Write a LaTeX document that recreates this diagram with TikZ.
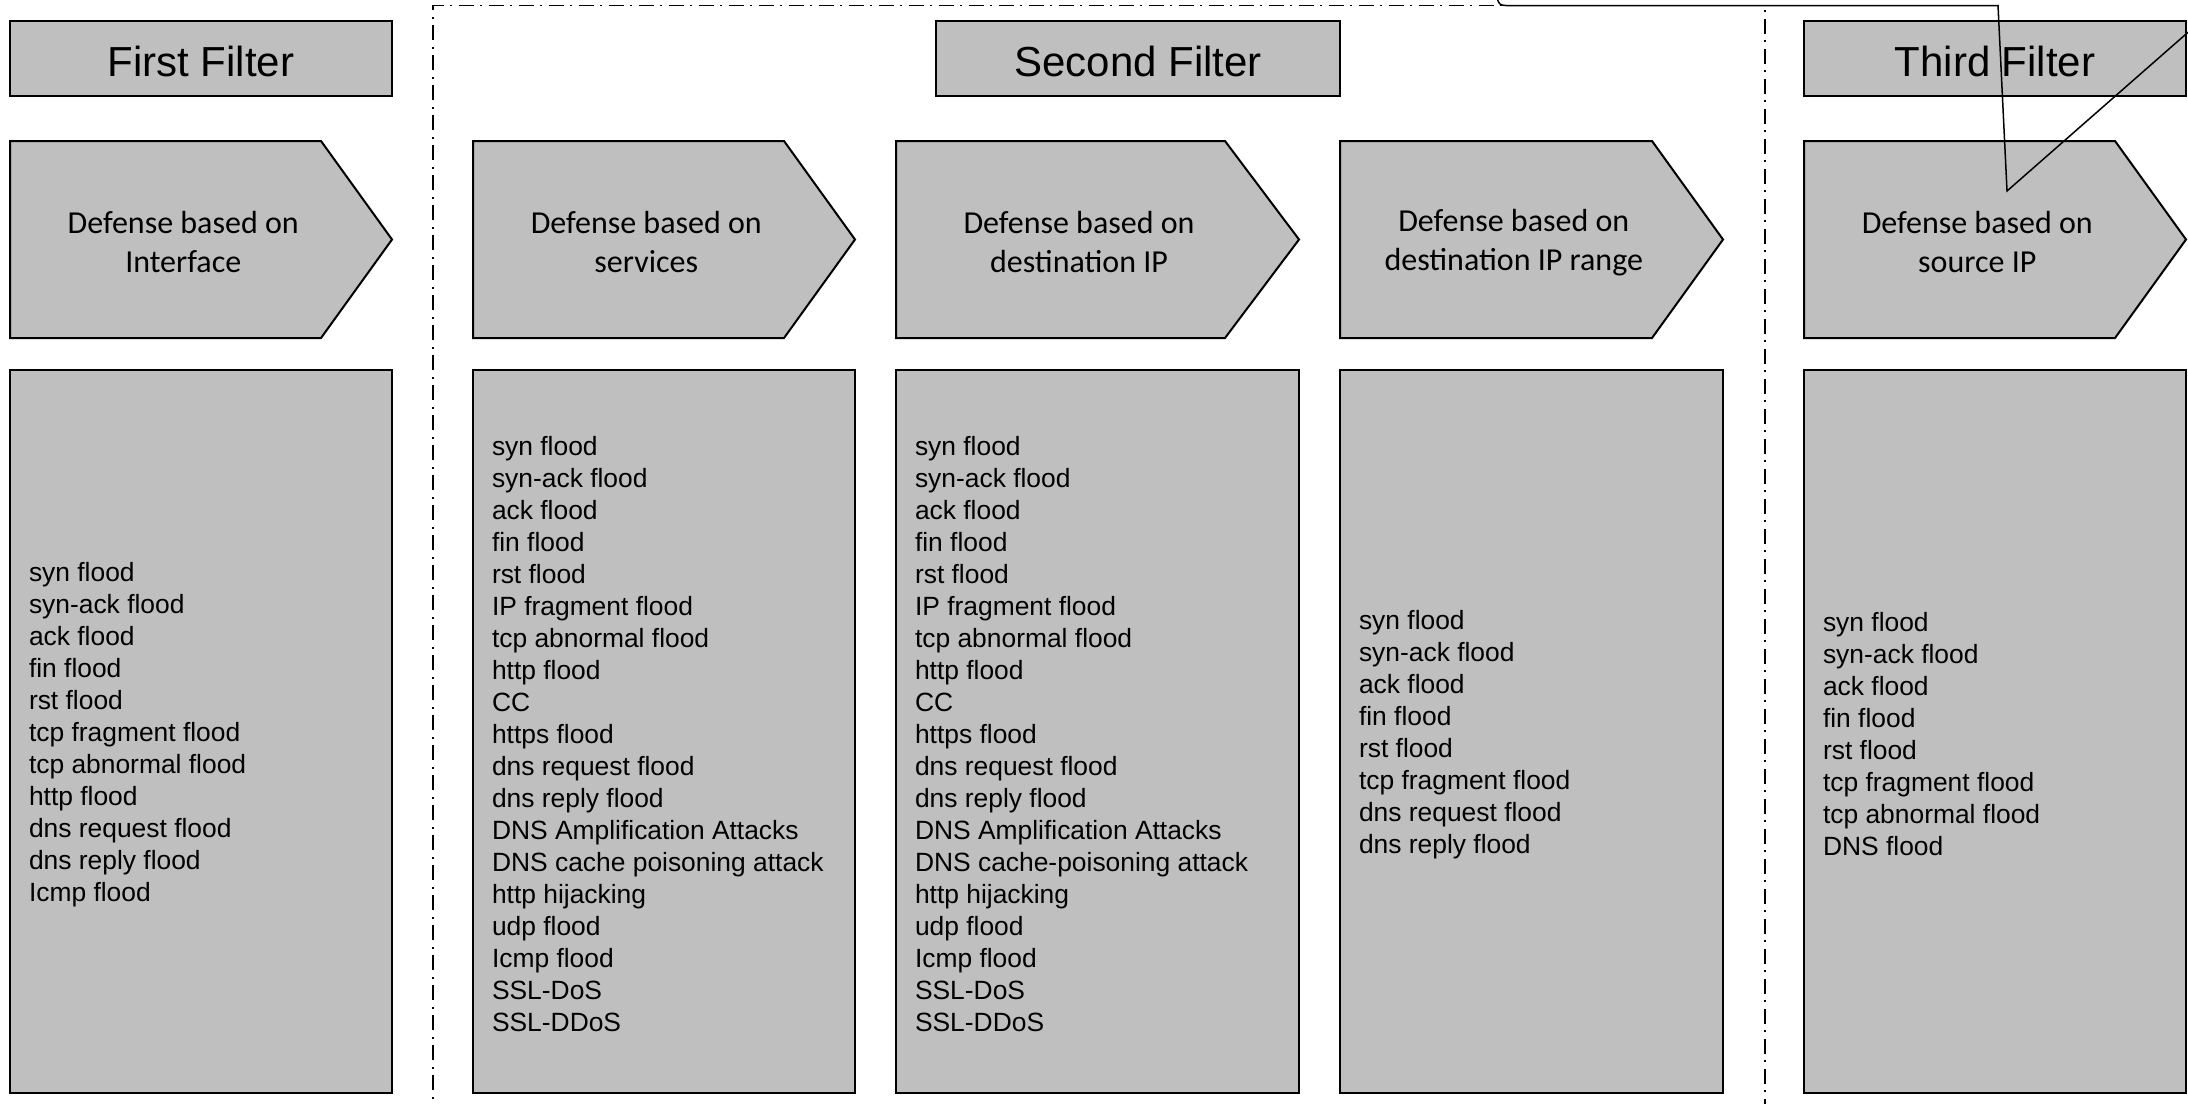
\documentclass[tikz,border=0pt]{standalone}
\usepackage{fontspec}
\setmainfont{Liberation Sans}
\newfontfamily\chevfont{Carlito}
\definecolor{boxgray}{RGB}{191,191,191}

% arrow-shaped stage box: name, left x, start of the point, tip x, label
\newcommand\homeplate[5]{%
  \draw[shapeline] (#2,141) -- (#3,141) -- (#4,239.5) -- (#3,338) -- (#2,338) -- cycle;
  \node[chevtext] (#1) at ({(#2+(#3+#4)/2)/2},242.5) {#5};}

% attack list: box name, text name, left x, box width (pt), lines
\newcommand\attacklist[5]{%
  \node[listbox, minimum width=#4] (#1) at (#3,370) {};
  \node[listtext] (#2) at ([xshift=9.5pt,yshift=-1.5pt]#1.west) {#5};}

\begin{document}
\begin{tikzpicture}[x=0.5pt,y=-0.5pt,
  every node/.style={outer sep=0pt},
  shapeline/.style={draw=black, line width=1pt, fill=boxgray},
  headbox/.style={shapeline, anchor=north west, inner sep=0pt,
    minimum height=37.5pt, text height=18pt, text depth=0pt,
    font=\fontsize{21}{25}\selectfont},
  listbox/.style={shapeline, anchor=north west, inner sep=0pt, minimum height=361.5pt},
  listtext/.style={anchor=west, inner sep=0pt, align=left,
    font=\fontsize{13.2}{16}\selectfont},
  chevtext/.style={align=center, inner sep=0pt,
    font=\chevfont\fontsize{16}{19.5}\selectfont},
  frameline/.style={line width=0.75pt, dash pattern=on 7.5pt off 3pt on 1pt off 3.5pt},
  strayline/.style={line width=0.75pt}]
\useasboundingbox (0,0) rectangle (2188,1103);
\clip (0,0) rectangle (2188,1103);

% group frame around the second filter
\draw[frameline] (433,1120) -- (433,5.6) -- (1765,5.6) -- (1765,1120);

% filter titles
\node[headbox, minimum width=191pt] (h1) at (10,21) {First Filter};
\node[headbox, minimum width=202pt] (h2) at (936,21) {Second Filter};
\node[headbox, minimum width=191pt] (h3) at (1804,21) {Third Filter};

% stages
\homeplate{p1}{10}{321}{392}{Defense based on\\Interface}
\homeplate{p2}{473}{784}{855}{Defense based on\\services}
\homeplate{p3}{896}{1225}{1299}{Defense based on\\destination IP}
\homeplate{p4}{1340}{1652}{1723}{Defense based on\\destination IP range}
\homeplate{p5}{1804}{2115}{2186}{Defense based on\\source IP}

% attack lists
\attacklist{l1}{t1}{10}{191pt}{syn flood\\syn-ack flood\\ack flood\\fin flood\\rst flood\\tcp fragment flood\\tcp abnormal flood\\http flood\\dns request flood\\dns reply flood\\Icmp flood}
\attacklist{l2}{t2}{473}{191pt}{syn flood\\syn-ack flood\\ack flood\\fin flood\\rst flood\\IP fragment flood\\tcp abnormal flood\\http flood\\CC\\https flood\\dns request flood\\dns reply flood\\DNS Amplification Attacks\\DNS cache poisoning attack\\http hijacking\\udp flood\\Icmp flood\\SSL-DoS\\SSL-DDoS}
\attacklist{l3}{t3}{896}{201.5pt}{syn flood\\syn-ack flood\\ack flood\\fin flood\\rst flood\\IP fragment flood\\tcp abnormal flood\\http flood\\CC\\https flood\\dns request flood\\dns reply flood\\DNS Amplification Attacks\\DNS cache-poisoning attack\\http hijacking\\udp flood\\Icmp flood\\SSL-DoS\\SSL-DDoS}
\attacklist{l4}{t4}{1340}{191.5pt}{syn flood\\syn-ack flood\\ack flood\\fin flood\\rst flood\\tcp fragment flood\\dns request flood\\dns reply flood}
\attacklist{l5}{t5}{1804}{191pt}{syn flood\\syn-ack flood\\ack flood\\fin flood\\rst flood\\tcp fragment flood\\tcp abnormal flood\\DNS flood}

% loose connector running along the frame top
\coordinate (s0) at (1496,-6);
\coordinate (s1) at (1512,5.6);
\coordinate (s2) at (1998,5.6);
\coordinate (s3) at (2007,191);
\coordinate (s4) at (2210,13);
\draw[strayline] (s0) .. controls (1499,5.6) .. (s1) -- (s2) -- (s3) -- (s4);
\end{tikzpicture}
\end{document}
